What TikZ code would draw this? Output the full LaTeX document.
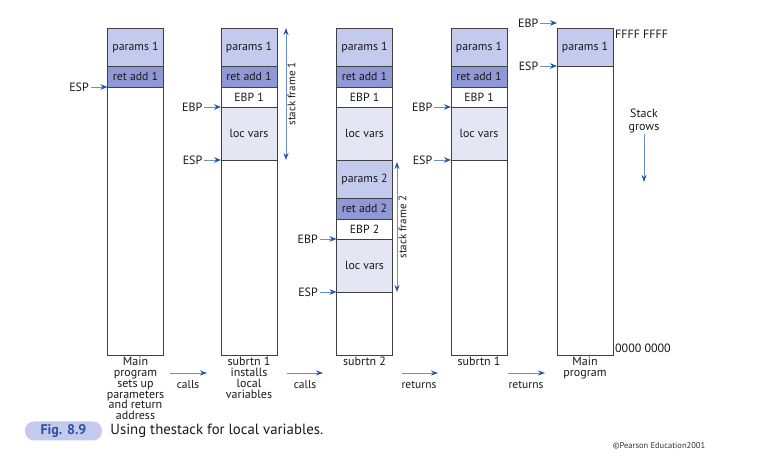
\documentclass[tikz,border=0pt]{standalone}
\usepackage{fontspec}
\setmainfont{PT Sans}
\usepackage{tikz}
\usetikzlibrary{positioning,arrows.meta}
\definecolor{paramblue}{HTML}{C4C9EE}
\definecolor{retblue}{HTML}{8E99D5}
\definecolor{locgrey}{HTML}{E4E6F4}
\definecolor{ptrblue}{HTML}{2B62B0}
\definecolor{lineblue}{HTML}{6A8FCB}
\definecolor{tipblue}{HTML}{1F56A5}
\definecolor{figblue}{HTML}{2F4E9E}
\tikzset{cell/.style={draw=black!75,line width=0.8pt,minimum width=56pt,inner sep=0pt,outer sep=0pt,text=black!90,font=\fontsize{11.8}{13}\selectfont}}
\tikzset{params/.style={cell,fill=paramblue,minimum height=38pt}}
\tikzset{retadd/.style={cell,fill=retblue,minimum height=21pt}}
\tikzset{ebpslot/.style={cell,fill=white,minimum height=20pt}}
\tikzset{locvars/.style={cell,fill=locgrey,minimum height=53pt}}
\tikzset{freecell/.style={cell,fill=white}}
\tikzset{ptrlabel/.style={inner sep=1.5pt,text=black!90,font=\fontsize{12}{13}\selectfont}}
\tikzset{ptr/.style={draw=lineblue,line width=0.9pt,-{Stealth[length=7pt,width=5.5pt,color=tipblue]}}}
\tikzset{framespan/.style={draw=lineblue,line width=0.9pt,{Stealth[length=7pt,width=5pt,color=tipblue]}-{Stealth[length=7pt,width=5pt,color=tipblue]}}}
\tikzset{flow/.style={draw=lineblue,line width=0.9pt,-{Stealth[length=7pt,width=5pt,color=tipblue]}}}
\tikzset{colname/.style={align=center,inner sep=1pt,text=black!90,font=\fontsize{12}{10.8}\selectfont}}
\tikzset{flowname/.style={inner sep=1pt,text=black!90,font=\fontsize{11.5}{12.5}\selectfont}}

\begin{document}
\begin{tikzpicture}[x=1pt,y=1pt]
		\useasboundingbox (0,0) rectangle (763,465);
		\node[params,anchor=north] (p1) at (135.5,437) {params 1};
		\node[retadd,below=0pt of p1] (r1) {ret add 1};
		\node[freecell,minimum height=268pt,below=0pt of r1] (e1) {};
		\node[ptrlabel,left=17pt of r1.south west] (esp1) {ESP};
		\path[ptr] (esp1) -- (r1.south west);
		\node[colname,below=1pt of e1] (n1) {Main\\program\\sets up\\parameters\\and return\\address};
		\node[params,anchor=north] (p2) at (249,437) {params 1};
		\node[retadd,below=0pt of p2] (r2) {ret add 1};
		\node[ebpslot,below=0pt of r2] (b2) {EBP 1};
		\node[locvars,below=0pt of b2] (l2) {loc vars};
		\node[freecell,minimum height=195pt,below=0pt of l2] (e2) {};
		\node[ptrlabel,left=17pt of b2.south west] (ebp2) {EBP};
		\path[ptr] (ebp2) -- (b2.south west);
		\node[ptrlabel,left=17pt of l2.south west] (esp2) {ESP};
		\path[ptr] (esp2) -- (l2.south west);
		\path (p2.north east) ++(9,0) coordinate (sf1top);
		\path (l2.south east) ++(9,0) coordinate (sf1bot);
		\path[framespan] (sf1top) -- (sf1bot) node[midway,rotate=90,anchor=north,inner sep=3pt,flowname,font=\fontsize{11}{12}\selectfont] (sf1) {stack frame 1};
		\node[colname,below=1pt of e2] (n2) {subrtn 1\\installs\\local\\variables};
		\node[params,anchor=north] (p3) at (364.5,437) {params 1};
		\node[retadd,below=0pt of p3] (r3) {ret add 1};
		\node[ebpslot,below=0pt of r3] (b3) {EBP 1};
		\node[locvars,below=0pt of b3] (l3) {loc vars};
		\node[params,below=0pt of l3] (p3b) {params 2};
		\node[retadd,below=0pt of p3b] (r3b) {ret add 2};
		\node[ebpslot,below=0pt of r3b] (b3b) {EBP 2};
		\node[locvars,below=0pt of b3b] (l3b) {loc vars};
		\node[freecell,minimum height=63pt,below=0pt of l3b] (e3) {};
		\node[ptrlabel,left=17pt of b3b.south west] (ebp3) {EBP};
		\path[ptr] (ebp3) -- (b3b.south west);
		\node[ptrlabel,left=17pt of l3b.south west] (esp3) {ESP};
		\path[ptr] (esp3) -- (l3b.south west);
		\path (p3b.north east) ++(4.5,-2) coordinate (sf2top);
		\path (l3b.south east) ++(4.5,0) coordinate (sf2bot);
		\path[framespan] (sf2top) -- (sf2bot) node[midway,rotate=90,anchor=north,inner sep=3pt,flowname,font=\fontsize{11}{12}\selectfont] (sf2) {stack frame 2};
		\node[colname,below=1pt of e3] (n3) {subrtn 2};
		\node[params,anchor=north] (p4) at (479,437) {params 1};
		\node[retadd,below=0pt of p4] (r4) {ret add 1};
		\node[ebpslot,below=0pt of r4] (b4) {EBP 1};
		\node[locvars,below=0pt of b4] (l4) {loc vars};
		\node[freecell,minimum height=195pt,below=0pt of l4] (e4) {};
		\node[ptrlabel,left=17pt of b4.south west] (ebp4) {EBP};
		\path[ptr] (ebp4) -- (b4.south west);
		\node[ptrlabel,left=17pt of l4.south west] (esp4) {ESP};
		\path[ptr] (esp4) -- (l4.south west);
		\node[colname,below=1pt of e4] (n4) {subrtn 1};
		\node[params,anchor=north] (p5) at (585,437) {params 1};
		\node[freecell,minimum height=289pt,below=0pt of p5] (e5) {};
		\path (p5.north west) ++(0,5) coordinate (top5);
		\node[ptrlabel,left=17pt of top5] (ebp5) {EBP};
		\path[ptr] (ebp5) -- (top5);
		\node[ptrlabel,left=17pt of p5.south west] (esp5) {ESP};
		\path[ptr] (esp5) -- (p5.south west);
		\node[colname,below=1pt of e5] (n5) {Main\\program};
		\node[ptrlabel,anchor=north west,inner sep=2pt] (hi) at (p5.north east) {FFFF FFFF};
		\node[ptrlabel,anchor=south west,inner sep=2pt] (lo) at (e5.south east) {0000 0000};
		\node[flowname,align=center,font=\fontsize{12}{13}\selectfont] (grows) at (644,344) {Stack\\grows};
		\coordinate (growsend) at (644,283);
		\path[flow] (grows) -- (growsend);
		\coordinate (c1a) at (170,92);
		\coordinate (c1b) at (207,92);
		\path[flow] (c1a) -- (c1b);
		\node[flowname] (calls1) at (188,80) {calls};
		\coordinate (c2a) at (287,92);
		\coordinate (c2b) at (323,92);
		\path[flow] (c2a) -- (c2b);
		\node[flowname] (calls2) at (305,80) {calls};
		\coordinate (r1a) at (402,92);
		\coordinate (r1b) at (438,92);
		\path[flow] (r1a) -- (r1b);
		\node[flowname] (ret1) at (419,80) {returns};
		\coordinate (r2a) at (508,92);
		\coordinate (r2b) at (545,92);
		\path[flow] (r2a) -- (r2b);
		\node[flowname] (ret2) at (526,80) {returns};
		\node[fill=paramblue,rounded corners=9pt,minimum width=77pt,minimum height=19pt,inner sep=0pt,text=figblue,font=\fontsize{14}{15}\bfseries] (fig) at (63.5,34) {Fig. 8.9};
		\node[right=8pt of fig,inner sep=0pt,text=black!90,font=\fontsize{14.8}{16}\selectfont] (title) {Using thestack for local variables.};
		\node[inner sep=0pt,text=black!80,font=\fontsize{8.5}{9}\selectfont] (copy) at (659,19) {\textcopyright Pearson Education2001};
	\end{tikzpicture}
\end{document}
